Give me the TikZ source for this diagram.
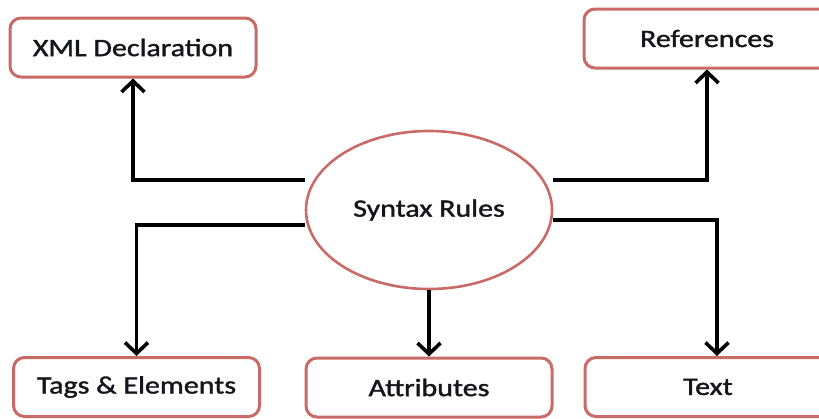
\documentclass[tikz,border=0pt]{standalone}
\usepackage{fontspec}
\setmainfont{Carlito}
\newfontfamily\labfont[FakeBold=1.3]{Carlito}
\usetikzlibrary{arrows.meta,shapes.geometric}
\definecolor{boxred}{HTML}{C96A67}
\definecolor{txt}{HTML}{15151C}
\newcommand{\wtxt}[1]{\scalebox{1.2}[1]{#1}}
\begin{document}
\begin{tikzpicture}[x=1pt,y=-1pt,
  rbox/.style={draw=boxred, line width=3pt, rounded corners=11pt, fill=white,
    minimum width=246pt, minimum height=59pt, inner sep=0pt,
    text=txt, font=\labfont\fontsize{25pt}{28pt}\selectfont},
  rell/.style={draw=boxred, line width=2.6pt, ellipse, fill=white,
    minimum width=246pt, minimum height=158pt, inner sep=0pt,
    text=txt, font=\labfont\fontsize{25pt}{28pt}\selectfont},
  arr/.style={draw=black, line width=3.6pt, -{Straight Barb[length=11pt,width=23pt]}}
]
\useasboundingbox (0,0) rectangle (819,418);
\node[rbox] (xml)  at (133,47.5) {\wtxt{XML Declaration}};
\node[rbox] (ref)  at (707,38.5) {\wtxt{References}};
\node[rbox] (tags) at (136.5,387) {\wtxt{Tags \& Elements}};
\node[rbox] (attr) at (429,387.5) {\wtxt{Attributes}};
\node[rbox] (text) at (708,387) {\wtxt{Text}};
\node[rell] (syn)  at (429,210) {\wtxt{Syntax Rules}};
\draw[arr] ([yshift=30pt]syn.west) -| (xml.south);
\draw[arr] ([yshift=30pt]syn.east) -| (ref.south);
\draw[arr] ([yshift=-15pt]syn.west) -| (tags.north);
\draw[arr] ([yshift=-10pt]syn.east) -| ([xshift=9pt]text.north);
\draw[arr] (syn.south) -- (attr.north);
\end{tikzpicture}
\end{document}
